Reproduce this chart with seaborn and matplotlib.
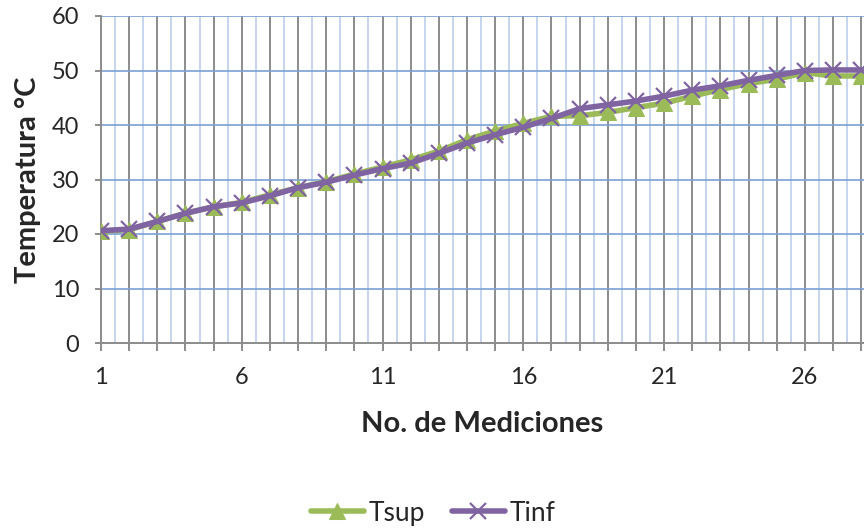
import seaborn as sns
import matplotlib.pyplot as plt
import pandas as pd

# values
mediciones = list(range(1, 29))
tsup = [20.5, 20.8, 22.3, 23.8, 25.0, 25.8, 27.2, 28.5, 29.6, 31.0, 32.3, 33.6, 35.2, 37.3,
        38.9, 40.3, 41.6, 41.7, 42.3, 43.2, 44.0, 45.3, 46.5, 47.6, 48.4, 49.6, 49.0, 49.0]
tinf = [20.6, 20.9, 22.3, 23.8, 25.0, 25.7, 27.0, 28.5, 29.5, 30.8, 32.0, 33.0, 34.8, 36.7,
        38.2, 39.6, 41.2, 43.0, 43.7, 44.4, 45.3, 46.4, 47.2, 48.2, 49.1, 50.0, 50.1, 50.1]
xtick_labels = ['1', '6', '11', '16', '21', '26']

sns.set_style('white')
plt.rcParams['font.family'] = ['Lato', 'DejaVu Sans']

fig = plt.figure(figsize=(8.64, 5.29), dpi=100)
ax = fig.add_axes([101 / 864, 186 / 529, 763 / 864, 327 / 529])

# gridlines: dark gray at every integer, light blue halfway, blue horizontals
for i in mediciones:
    ax.axvline(i, color='#8c8c8c', lw=1.4, zorder=1)
    ax.axvline(i + 0.5, color='#c6d5ee', lw=1.4, zorder=0.9)
for v in range(10, 61, 10):
    ax.axhline(v, color='#7ba0d4', lw=1.2, zorder=1.1)

sns.lineplot(x=mediciones, y=tsup, color='#9bbb59', marker='^', ms=12, lw=4,
             markeredgecolor='#9bbb59', label='Tsup', ax=ax, zorder=3)
sns.lineplot(x=mediciones, y=tinf, color='#8064a2', marker='x', ms=12, lw=4,
             markeredgewidth=1.6, markeredgecolor='#8064a2', label='Tinf', ax=ax, zorder=4)

ax.set_xlim(1, 28.1)
ax.set_ylim(0, 60)
ax.set_xticks(mediciones)
ax.set_xticklabels([str(i) if str(i) in xtick_labels else '' for i in mediciones])
ax.set_yticks(range(0, 61, 10))
ax.tick_params(axis='x', length=6, width=1.4, color='#8c8c8c', labelsize=17, pad=11,
               bottom=True)
ax.tick_params(axis='y', length=4.5, width=1.4, color='#8c8c8c', labelsize=17, pad=11, left=True)

for side in ['top', 'right']:
    ax.spines[side].set_visible(False)
for side in ['left', 'bottom']:
    ax.spines[side].set_color('#8c8c8c')
    ax.spines[side].set_linewidth(1.4)

ax.set_xlabel('No. de Mediciones', fontsize=21, fontweight='bold', labelpad=17)
ax.set_ylabel('Temperatura °C', fontsize=21, fontweight='bold', labelpad=8)

ax.legend(loc='center', bbox_to_anchor=(0.5 - 101 / 864 / 2 - 0.006, -0.52),
          ncol=2, frameon=False, fontsize=19, handlelength=2.0, columnspacing=1.0,
          handletextpad=0.2)

fig.savefig('out.png', dpi=100)
